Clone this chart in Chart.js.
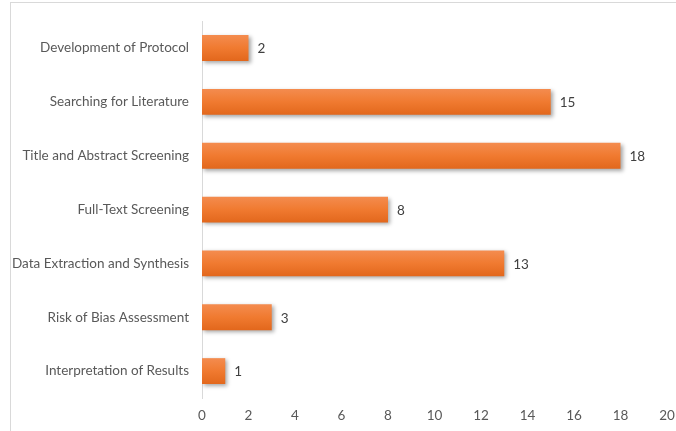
<!DOCTYPE html>
<html>
<head>
<meta charset="utf-8">
<script src="https://cdn.jsdelivr.net/npm/chart.js@4/dist/chart.umd.min.js"></script>
<style>
  html, body { margin: 0; padding: 0; background: #fff; }
  .wrap { position: relative; width: 676px; height: 431px; overflow: hidden; }
  .frame { position: absolute; left: 10px; top: 2px; width: 700px; height: 500px; border: 1px solid #d9d9d9; }
  canvas { position: absolute; left: 0; top: 0; }
</style>
</head>
<body>
<div class="wrap">
  <div class="frame"></div>
  <canvas id="stages" width="676" height="431"></canvas>
</div>
<script>
const stages = [
  "Development of Protocol",
  "Searching for Literature",
  "Title and Abstract Screening",
  "Full-Text Screening",
  "Data Extraction and Synthesis",
  "Risk of Bias Assessment",
  "Interpretation of Results"
];
const counts = [2, 15, 18, 8, 13, 3, 1];
const xTicks = [0, 2, 4, 6, 8, 10, 12, 14, 16, 18, 20];

const FONT = "Lato, 'Liberation Sans', sans-serif";
const BAR_HALF = 13;

// orange fill, lighter on top, darker at the bottom of each bar
function barFill(ctx) {
  const chart = ctx.chart;
  const y = chart.scales.y;
  if (!y || ctx.dataIndex === undefined) return "#ed7d31";
  const cy = y.getPixelForValue(ctx.dataIndex);
  if (!isFinite(cy)) return "#ed7d31";
  const g = chart.ctx.createLinearGradient(0, cy - BAR_HALF, 0, cy + BAR_HALF);
  g.addColorStop(0, "#f48c4f");
  g.addColorStop(0.5, "#f07a30");
  g.addColorStop(1, "#e2671c");
  return g;
}

const barShadow = {
  id: "barShadow",
  beforeDatasetsDraw(chart) {
    const c = chart.ctx;
    c.save();
    c.shadowColor = "rgba(0,0,0,0.35)";
    c.shadowBlur = 4;
    c.shadowOffsetX = 2;
    c.shadowOffsetY = 2;
  },
  afterDatasetsDraw(chart) {
    chart.ctx.restore();
  }
};

const valueLabels = {
  id: "valueLabels",
  afterDatasetsDraw(chart) {
    const c = chart.ctx;
    const meta = chart.getDatasetMeta(0);
    c.save();
    c.font = "13.5px " + FONT;
    c.fillStyle = "#404040";
    c.textAlign = "left";
    c.textBaseline = "middle";
    meta.data.forEach((bar, i) => {
      c.fillText(String(counts[i]), bar.x + 9, bar.y + 1);
    });
    c.restore();
  }
};

const chart = new Chart(document.getElementById("stages"), {
  type: "bar",
  data: {
    labels: stages,
    datasets: [{
      data: counts,
      backgroundColor: barFill,
      borderWidth: 0,
      barPercentage: 0.48,
      categoryPercentage: 1
    }]
  },
  options: {
    indexAxis: "y",
    responsive: false,
    animation: false,
    devicePixelRatio: 1,
    layout: { padding: { left: 10, right: 9, top: 20, bottom: 0 } },
    plugins: {
      legend: { display: false },
      tooltip: { enabled: false }
    },
    scales: {
      x: {
        min: 0,
        max: 20,
        afterBuildTicks(scale) {
          scale.ticks = xTicks.map(v => ({ value: v }));
        },
        afterFit(scale) {
          scale.height = 33;
          scale.paddingLeft = 0;
          scale.paddingRight = 0;
        },
        grid: { display: false, drawTicks: false },
        border: { display: false },
        ticks: {
          color: "#595959",
          font: { family: FONT, size: 13.5 },
          padding: 10
        }
      },
      y: {
        afterFit(scale) { scale.width = 192; },
        grid: { display: false, drawTicks: false },
        border: { display: true, color: "#d9d9d9", width: 1 },
        ticks: {
          color: "#595959",
          font: { family: FONT, size: 13.5 },
          padding: 13
        }
      }
    }
  },
  plugins: [barShadow, valueLabels]
});
// second pass so the gradients pick up the laid-out scale
chart.update();
</script>
</body>
</html>
